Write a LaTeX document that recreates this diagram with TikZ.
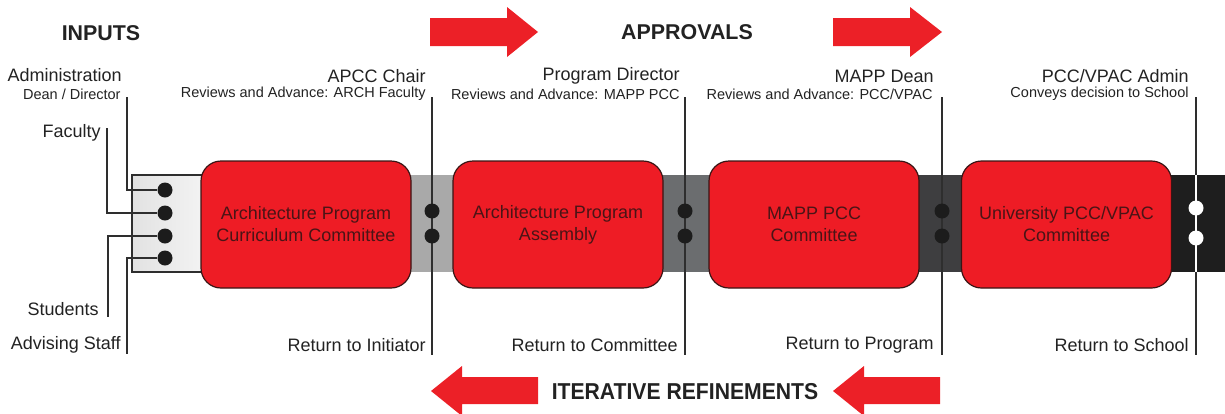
\documentclass[tikz,border=0pt]{standalone}
\usepackage{fontspec}
\setmainfont{Liberation Sans}
\definecolor{boxred}{HTML}{EE1C25}
\definecolor{boxline}{HTML}{3A1515}
\definecolor{boxtext}{HTML}{4A1416}
\definecolor{arrowred}{HTML}{EC2027}
\definecolor{dotc}{HTML}{1C1C1C}
\definecolor{wirec}{HTML}{2E2E2E}
\definecolor{labc}{HTML}{222222}
\definecolor{segA}{HTML}{E2E2E2}
\definecolor{segAr}{HTML}{F6F6F6}
\definecolor{segB}{HTML}{A9A9A9}
\definecolor{segC}{HTML}{6B6D6F}
\definecolor{segD}{HTML}{3E3E40}
\definecolor{segE}{HTML}{1E1E1E}
\begin{document}
\begin{tikzpicture}[x=0.5pt,y=-0.5pt,
  lab/.style={font=\fontsize{9}{10}\selectfont, inner sep=0pt, anchor=east, text=labc},
  sub/.style={font=\fontsize{7.25}{8}\selectfont, inner sep=0pt, anchor=east, text=labc},
  head/.style={font=\fontsize{10.7}{12}\selectfont\bfseries, inner sep=0pt, text=labc},
  stage/.style={draw=boxline, line width=0.6pt, fill=boxred, rounded corners=10pt,
    minimum width=105pt, minimum height=63.5pt, inner sep=0pt, align=center,
    text=boxtext, font=\fontsize{9}{11}\selectfont},
  dot/.style={circle, fill=dotc, inner sep=0pt, minimum size=7.5pt},
  wdot/.style={circle, fill=white, inner sep=0pt, minimum size=7.5pt},
  wire/.style={draw=wirec, line width=1pt},
  bigarrow/.style={fill=arrowred}
]
\useasboundingbox (0,0) rectangle (1225,413);

% ---- band segments
\draw[draw=wirec, line width=0.8pt, left color=segA, right color=segAr] (132,175) rectangle (215,272);
\fill[segB] (395,175) rectangle (470,272);
\fill[segC] (650,175) rectangle (725,272);
\fill[segD] (905,175) rectangle (975,272);
\fill[segE] (1160,175) rectangle (1225,272);

% ---- headings
\node[head] (inputs) at (101,33) {INPUTS};
\node[head] (approvals) at (687,32) {APPROVALS};
\node[head, font=\fontsize{11.5}{13}\selectfont\bfseries, xscale=0.92] (iter) at (685,392) {ITERATIVE REFINEMENTS};

% ---- big arrows
\fill[bigarrow] (430,18) -- (507,18) -- (507,7) -- (538,32) -- (507,57) -- (507,46) -- (430,46) -- cycle;
\fill[bigarrow] (833,18) -- (910,18) -- (910,7) -- (942,32) -- (910,57) -- (910,46) -- (833,46) -- cycle;
\fill[bigarrow] (538,377) -- (462,377) -- (462,366) -- (431,391) -- (462,416) -- (462,404) -- (538,404) -- cycle;
\fill[bigarrow] (940,377) -- (864,377) -- (864,366) -- (833,391) -- (864,416) -- (864,404) -- (940,404) -- cycle;

% ---- input labels
\node[lab] (adm) at (122,75) {Administration};
\node[sub] (dean) at (121,94) {Dean / Director};
\node[lab] (fac) at (101,133) {Faculty};
\node[lab] (stu) at (99,309) {Students};
\node[lab] (adv) at (121,345) {Advising Staff};

% ---- approval labels
\node[lab] (apcc) at (426,76) {APCC Chair};
\node[sub] (apccs) at (426,94) {Reviews and Advance: ARCH Faculty};
\node[lab] (pd) at (680,76) {Program Director};
\node[sub] (pds) at (680,94) {Reviews and Advance: MAPP PCC};
\node[lab] (md) at (934,76) {MAPP Dean};
\node[sub] (mds) at (933,94) {Reviews and Advance: PCC/VPAC};
\node[lab] (pv) at (1189,76) {PCC/VPAC Admin};
\node[sub] (pvs) at (1189,94) {Conveys decision to School};

% ---- return labels
\node[lab] (r1) at (426,345) {Return to Initiator};
\node[lab] (r2) at (678,345) {Return to Committee};
\node[lab] (r3) at (934,345) {Return to Program};
\node[lab] (r4) at (1189,345) {Return to School};

% ---- stage boxes
\node[stage] (s1) at (306,224.5) {Architecture Program\\Curriculum Committee};
\node[stage] (s2) at (558,224.5) {Architecture Program\\Assembly};
\node[stage] (s3) at (814,224.5) {MAPP PCC\\Committee};
\node[stage] (s4) at (1066.5,224.5) {University PCC/VPAC\\Committee};

% ---- coordinates for wire ends
\coordinate (admt) at (127,97);
\coordinate (fact) at (107,128);
\coordinate (stub) at (108,317);
\coordinate (advb) at (127,354);
\coordinate (a1t) at (432,97);  \coordinate (a1b) at (432,355);
\coordinate (a2t) at (685,97);  \coordinate (a2b) at (685,355);
\coordinate (a3t) at (942,97);  \coordinate (a3b) at (942,355);
\coordinate (a4t) at (1196,97); \coordinate (a4b) at (1196,355);
\coordinate (w4t) at (1196,175); \coordinate (w4b) at (1196,272);

% ---- input dots
\node[dot] (d1) at (165,190) {};
\node[dot] (d2) at (165,213) {};
\node[dot] (d3) at (165,236) {};
\node[dot] (d4) at (165,258) {};

% ---- input wires
\draw[wire] (admt) |- (d1);
\draw[wire] (fact) |- (d2);
\draw[wire] (d3) -| (stub);
\draw[wire] (d4) -| (advb);

% ---- approval wires
\draw[wire] (a1t) -- (a1b);
\draw[wire] (a2t) -- (a2b);
\draw[wire] (a3t) -- (a3b);
\draw[wire] (a4t) -- (a4b);
\draw[draw=white, line width=1pt] (w4t) -- (w4b);

% ---- approval dots
\node[dot] (e1) at (432,211) {};
\node[dot] (f1) at (432,236) {};
\node[dot] (e2) at (685,211) {};
\node[dot] (f2) at (685,236) {};
\node[dot] (e3) at (942,211) {};
\node[dot] (f3) at (942,236) {};
\node[wdot] (e4) at (1196,208) {};
\node[wdot] (f4) at (1196,238) {};
\end{tikzpicture}
\end{document}
